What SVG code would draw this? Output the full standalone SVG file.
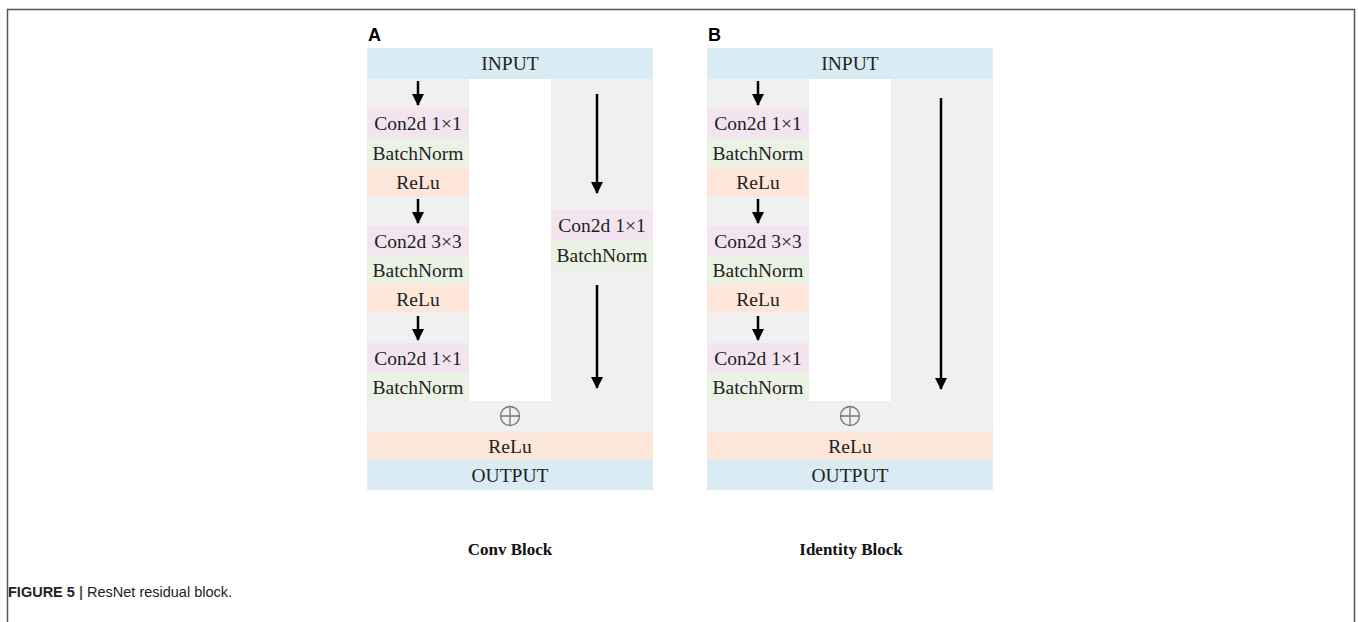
<svg xmlns="http://www.w3.org/2000/svg" width="1358" height="622" viewBox="0 0 1358 622">
<style>
.lbl{font-family:"Liberation Serif","Times New Roman",serif;font-size:19.5px;fill:#222;text-anchor:middle}
.cap{font-family:"Liberation Serif","Times New Roman",serif;font-size:17px;font-weight:bold;fill:#111;text-anchor:middle}
.pl{font-family:"Liberation Sans",Arial,sans-serif;font-size:18px;font-weight:bold;fill:#000}
.blue{fill:#d9ebf3}.gray{fill:#f0f0f0}.pink{fill:#f3e5f0}.green{fill:#eaf2e3}.orange{fill:#fce7da}.white{fill:#fff}
.conn{stroke:#000;stroke-width:2.5;fill:none;marker-end:url(#ah)}
.fig{font-family:"Liberation Sans",Arial,sans-serif;font-size:14.5px;fill:#222}
</style>
<defs>
<marker id="ah" markerUnits="userSpaceOnUse" markerWidth="12" markerHeight="12" viewBox="0 0 12 12" refX="11" refY="6" orient="auto">
<path d="M0,0 L12,6 L0,12 Z" fill="#000"/>
</marker>
</defs>
<rect x="0" y="0" width="1358" height="622" fill="#fff"/>
<path d="M7.5,622 V9.5 H1354.5 V622" fill="none" stroke="#555" stroke-width="1.5"/>

<!-- Panel A -->
<g id="panelA">
<text class="pl" x="368" y="41">A</text>
<rect class="gray" x="367" y="79" width="286" height="352"/>
<rect class="white" x="469" y="79" width="82" height="322"/>
</g>
<g id="a-input"><rect class="blue" x="367" y="48" width="286" height="31"/><text class="lbl" x="510" y="70">INPUT</text></g>
<g id="a-conv1"><rect class="pink" x="367" y="108" width="102" height="30"/><text class="lbl" x="418" y="130">Con2d 1×1</text></g>
<g id="a-bn1"><rect class="green" x="367" y="138" width="102" height="29"/><text class="lbl" x="418" y="159.5">BatchNorm</text></g>
<g id="a-relu1"><rect class="orange" x="367" y="167" width="102" height="30"/><text class="lbl" x="418" y="189">ReLu</text></g>
<g id="a-conv2"><rect class="pink" x="367" y="226" width="102" height="29"/><text class="lbl" x="418" y="247.5">Con2d 3×3</text></g>
<g id="a-bn2"><rect class="green" x="367" y="255" width="102" height="29"/><text class="lbl" x="418" y="276.5">BatchNorm</text></g>
<g id="a-relu2"><rect class="orange" x="367" y="284" width="102" height="29"/><text class="lbl" x="418" y="305.5">ReLu</text></g>
<g id="a-conv3"><rect class="pink" x="367" y="343" width="102" height="29"/><text class="lbl" x="418" y="364.5">Con2d 1×1</text></g>
<g id="a-bn3"><rect class="green" x="367" y="372" width="102" height="29"/><text class="lbl" x="418" y="393.5">BatchNorm</text></g>
<g id="a-sconv"><rect class="pink" x="551" y="210" width="102" height="30"/><text class="lbl" x="602" y="232">Con2d 1×1</text></g>
<g id="a-sbn"><rect class="green" x="551" y="240" width="102" height="29"/><text class="lbl" x="602" y="261.5">BatchNorm</text></g>
<g id="a-add"><circle cx="510" cy="416" r="9.5" fill="none" stroke="#777" stroke-width="1.3"/><path d="M500.5,416 H519.5 M510,406.5 V425.5" stroke="#777" stroke-width="1.3"/></g>
<g id="a-relu"><rect class="orange" x="367" y="431" width="286" height="29"/><text class="lbl" x="510" y="452.5">ReLu</text></g>
<g id="a-output"><rect class="blue" x="367" y="460" width="286" height="30"/><text class="lbl" x="510" y="481.5">OUTPUT</text></g>
<g id="a-caption"><text class="cap" x="510" y="555">Conv Block</text></g>

<!-- Panel B -->
<g id="panelB">
<text class="pl" x="708" y="41">B</text>
<rect class="gray" x="707" y="79" width="286" height="352"/>
<rect class="white" x="809" y="79" width="82" height="322"/>
</g>
<g id="b-input"><rect class="blue" x="707" y="48" width="286" height="31"/><text class="lbl" x="850" y="70">INPUT</text></g>
<g id="b-conv1"><rect class="pink" x="707" y="108" width="102" height="30"/><text class="lbl" x="758" y="130">Con2d 1×1</text></g>
<g id="b-bn1"><rect class="green" x="707" y="138" width="102" height="29"/><text class="lbl" x="758" y="159.5">BatchNorm</text></g>
<g id="b-relu1"><rect class="orange" x="707" y="167" width="102" height="30"/><text class="lbl" x="758" y="189">ReLu</text></g>
<g id="b-conv2"><rect class="pink" x="707" y="226" width="102" height="29"/><text class="lbl" x="758" y="247.5">Con2d 3×3</text></g>
<g id="b-bn2"><rect class="green" x="707" y="255" width="102" height="29"/><text class="lbl" x="758" y="276.5">BatchNorm</text></g>
<g id="b-relu2"><rect class="orange" x="707" y="284" width="102" height="29"/><text class="lbl" x="758" y="305.5">ReLu</text></g>
<g id="b-conv3"><rect class="pink" x="707" y="343" width="102" height="29"/><text class="lbl" x="758" y="364.5">Con2d 1×1</text></g>
<g id="b-bn3"><rect class="green" x="707" y="372" width="102" height="29"/><text class="lbl" x="758" y="393.5">BatchNorm</text></g>
<g id="b-add"><circle cx="850" cy="416" r="9.5" fill="none" stroke="#777" stroke-width="1.3"/><path d="M840.5,416 H859.5 M850,406.5 V425.5" stroke="#777" stroke-width="1.3"/></g>
<g id="b-relu"><rect class="orange" x="707" y="431" width="286" height="29"/><text class="lbl" x="850" y="452.5">ReLu</text></g>
<g id="b-output"><rect class="blue" x="707" y="460" width="286" height="30"/><text class="lbl" x="850" y="481.5">OUTPUT</text></g>
<g id="b-caption"><text class="cap" x="851" y="555">Identity Block</text></g>

<g id="connectors">
<line class="conn" x1="418" y1="81" x2="418" y2="105"/>
<line class="conn" x1="418" y1="199" x2="418" y2="223"/>
<line class="conn" x1="418" y1="316" x2="418" y2="340"/>
<line class="conn" x1="597" y1="94" x2="597" y2="193"/>
<line class="conn" x1="597" y1="285" x2="597" y2="388"/>
<line class="conn" x1="758" y1="81" x2="758" y2="105"/>
<line class="conn" x1="758" y1="199" x2="758" y2="223"/>
<line class="conn" x1="758" y1="316" x2="758" y2="340"/>
<line class="conn" x1="941" y1="98" x2="941" y2="389"/>
</g>

<g id="figure-caption"><text class="fig" x="8" y="597"><tspan font-weight="bold">FIGURE 5</tspan><tspan font-weight="bold" fill="#555"> | </tspan>ResNet residual block.</text></g>
</svg>
